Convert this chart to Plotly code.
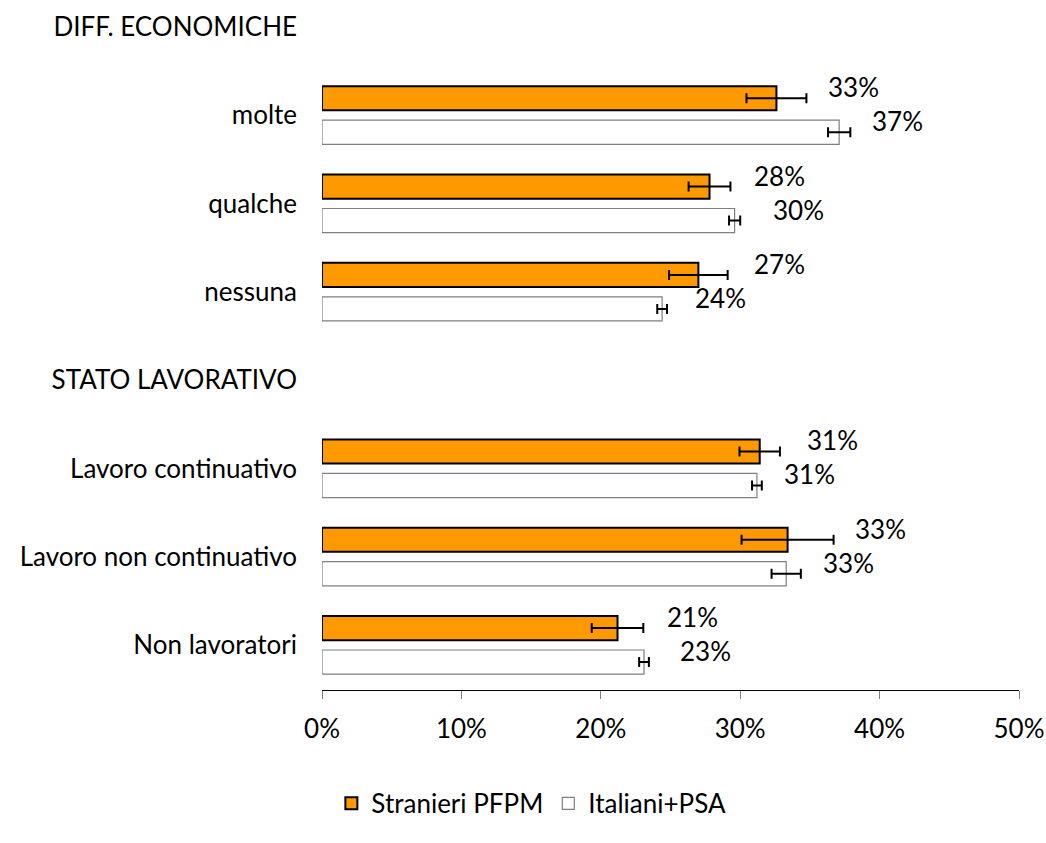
import plotly.graph_objects as go

# Row labels (section headers carry no bars)
categories = [
    "DIFF. ECONOMICHE", "molte", "qualche", "nessuna",
    "STATO LAVORATIVO", "Lavoro continuativo", "Lavoro non continuativo", "Non lavoratori",
]
bar_rows = ["molte", "qualche", "nessuna",
            "Lavoro continuativo", "Lavoro non continuativo", "Non lavoratori"]

# Percentages and 95% CI half-widths
stranieri = [32.6, 27.8, 27.0, 31.4, 33.4, 21.2]
stranieri_err = [2.15, 1.5, 2.1, 1.45, 3.3, 1.85]
italiani = [37.1, 29.6, 24.4, 31.2, 33.3, 23.1]
italiani_err = [0.8, 0.4, 0.35, 0.35, 1.05, 0.35]

x_ticks = [0, 10, 20, 30, 40, 50]
x_tick_labels = ["0%", "10%", "20%", "30%", "40%", "50%"]

# Horizontal distance (in % units) from bar end to the centre of its value label
stranieri_label_dx = [5.5, 5.0, 5.8, 5.2, 6.7, 5.4]
italiani_label_dx = [4.2, 4.6, 4.2, 3.8, 4.5, 4.4]

FONT = "Lato"
FS = 26
ORANGE = "#FF9900"

fig = go.Figure()
fig.add_trace(go.Bar(
    name="Stranieri PFPM", y=bar_rows, x=stranieri, orientation="h",
    marker=dict(color=ORANGE, line=dict(color="#000000", width=2)),
    error_x=dict(type="data", array=stranieri_err, color="#000000", thickness=2, width=5),
))
fig.add_trace(go.Bar(
    name="Italiani+PSA", y=bar_rows, x=italiani, orientation="h",
    marker=dict(color="#FFFFFF", line=dict(color="#7F7F7F", width=1.2)),
    error_x=dict(type="data", array=italiani_err, color="#000000", thickness=2, width=5),
))

annotations = []
for row, v, dx in zip(bar_rows, stranieri, stranieri_label_dx):
    annotations.append(dict(x=v + dx, y=row, text=f"{v:.0f}%", showarrow=False,
                            xanchor="center", yanchor="middle", yshift=28,
                            font=dict(family=FONT, size=FS, color="#000000")))
for row, v, dx in zip(bar_rows, italiani, italiani_label_dx):
    annotations.append(dict(x=v + dx, y=row, text=f"{v:.0f}%", showarrow=False,
                            xanchor="center", yanchor="middle", yshift=-6,
                            font=dict(family=FONT, size=FS, color="#000000")))

fig.update_layout(
    width=1046, height=843,
    margin=dict(l=322, r=27, t=10, b=153),
    paper_bgcolor="#FFFFFF", plot_bgcolor="#FFFFFF",
    barmode="group", bargap=0.23, bargroupgap=0.29,
    font=dict(family=FONT, size=FS, color="#000000"),
    annotations=annotations,
    showlegend=True,
    legend=dict(orientation="h", xref="container", yref="container",
                x=0.508, xanchor="center", y=0.047, yanchor="middle",
                font=dict(family=FONT, size=FS, color="#000000"),
                itemwidth=30, traceorder="normal"),
    xaxis=dict(range=[0, 50], tickmode="array", tickvals=x_ticks, ticktext=x_tick_labels,
               automargin=False, showgrid=False, zeroline=False,
               showline=True, linecolor="#000000", linewidth=1.3,
               ticks="outside", ticklen=8, tickcolor="#7F7F7F", tickwidth=1.3,
               ticklabelstandoff=8,
               tickfont=dict(family=FONT, size=FS, color="#000000")),
    yaxis=dict(type="category", categoryorder="array", categoryarray=categories,
               range=[7.509, -0.1925], automargin=False, showgrid=False, zeroline=False,
               showline=False, ticks="", ticklabelstandoff=24,
               tickfont=dict(family=FONT, size=FS, color="#000000")),
)

fig.write_html("out.html")
